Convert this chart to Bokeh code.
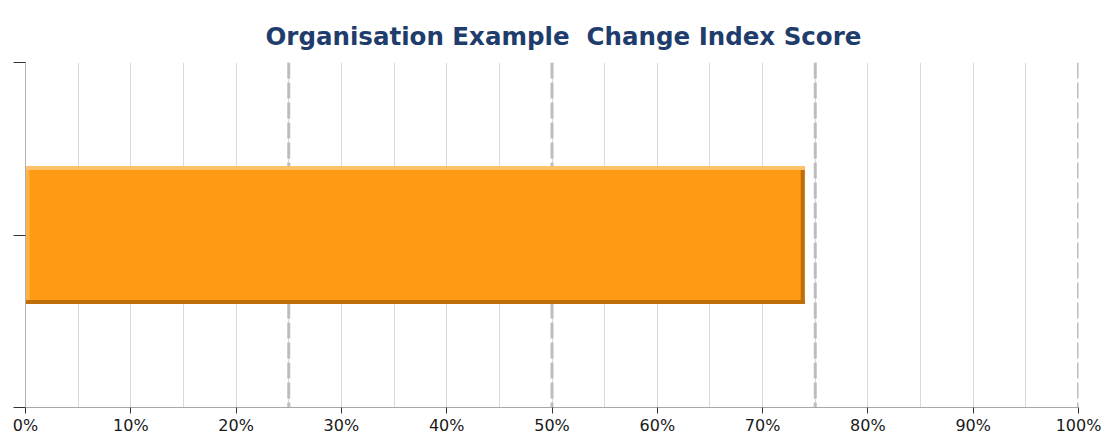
from bokeh.plotting import figure
from bokeh.models import Span, FixedTicker, Range1d
from bokeh.embed import file_html
from bokeh.resources import INLINE

# ---- data ----
categories = ["Organisation Example"]
scores = [74]
x_ticks = [0, 10, 20, 30, 40, 50, 60, 70, 80, 90, 100]
x_minor = [5, 15, 25, 35, 45, 55, 65, 75, 85, 95]
x_tick_labels = ["0%", "10%", "20%", "30%", "40%", "50%", "60%", "70%", "80%", "90%", "100%"]
threshold_lines = [25, 50, 75, 100]
title_text = "Organisation Example\u00a0 Change Index Score"

# ---- figure ----
p = figure(width=1103, height=437, x_range=Range1d(0, 100), y_range=Range1d(0, 2),
           output_backend="svg", toolbar_location=None,
           min_border_left=25, min_border_right=25, min_border_top=62, min_border_bottom=10)
p.outline_line_color = None
p.background_fill_color = "white"

p.title.text = title_text
p.title.text_font = "DejaVu Sans"
p.title.text_font_size = "24.5px"
p.title.text_font_style = "bold"
p.title.text_color = "#1F3D6C"
p.title.align = "left"
p.title.offset = 240
p.title.standoff = 23

# grid
p.xaxis.ticker = FixedTicker(ticks=x_ticks, minor_ticks=x_minor)
p.xgrid.grid_line_color = "#D9D9D9"
p.xgrid.minor_grid_line_color = "#D9D9D9"
p.ygrid.grid_line_color = None

# threshold dashed lines
for t in threshold_lines:
    p.add_layout(Span(location=t, dimension="height", line_color="#BDBDBD",
                      line_width=3, line_dash="16 4", level="underlay"))

# bar with bevel
y_center = 1.0
bar_h = 0.8
bottom = y_center - bar_h / 2
top = y_center + bar_h / 2
px_y = 2.0 / 348
px_x = 100.0 / 1053
for v in scores:
    p.hbar(y=[y_center], left=0, right=[v], height=bar_h, fill_color="#FE9A14", line_color=None)
    p.quad(left=[0], right=[4 * px_x], bottom=[bottom], top=[top], fill_color="#FFB24A", line_color=None)
    p.quad(left=[0], right=[v], bottom=[top - 4 * px_y], top=[top], fill_color="#FFC06A", line_color=None)
    p.quad(left=[0], right=[v], bottom=[bottom], top=[bottom + 4 * px_y], fill_color="#BF6E0A", line_color=None)
    p.quad(left=[v - 4 * px_x], right=[v], bottom=[bottom], top=[top - 4 * px_y], fill_color="#BF6E0A", line_color=None)

# x axis
xa = p.xaxis[0]
xa.major_label_overrides = {t: l for t, l in zip(x_ticks, x_tick_labels)}
xa.axis_line_color = "#A8A8A8"
xa.major_tick_line_color = "#333333"
xa.major_tick_out = 6
xa.major_tick_in = 0
xa.minor_tick_line_color = None
xa.major_label_text_font = "DejaVu Sans"
xa.major_label_text_font_size = "16px"
xa.major_label_text_color = "#1A1A1A"
xa.major_label_standoff = 2

# y axis
ya = p.yaxis[0]
ya.ticker = FixedTicker(ticks=[0, 1, 2])
ya.major_label_overrides = {0: "", 1: "", 2: ""}
ya.major_label_text_font_size = "0px"
ya.major_label_standoff = 0
ya.axis_line_color = "#B0B0B0"
ya.major_tick_line_color = "#333333"
ya.major_tick_out = 12
ya.major_tick_in = 0
ya.minor_tick_line_color = None

open("out.html", "w").write(file_html(p, INLINE))
